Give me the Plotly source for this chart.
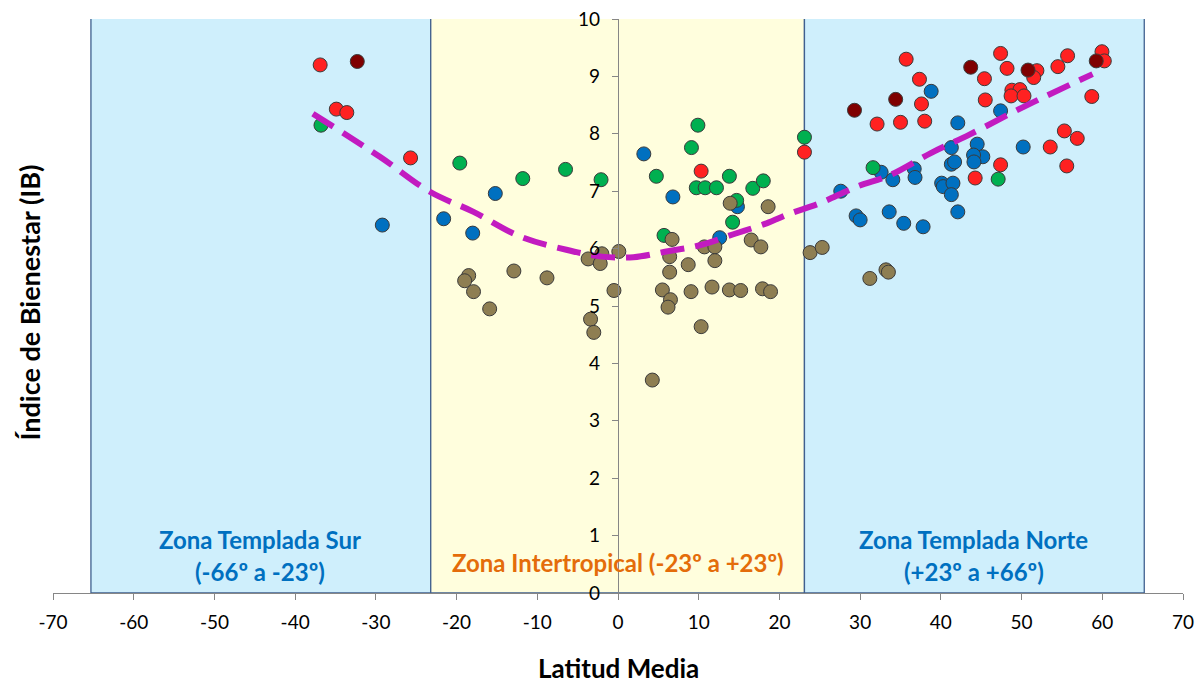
import plotly.graph_objects as go

# ---------------- data ----------------
red_x = [-36.9, -34.9, -33.6, -25.7, 10.3, 23.1, 32.1, 35.0, 38.0, 37.6, 37.35, 35.7, 47.4, 48.2, 45.4,
         51.9, 51.5, 54.5, 55.7, 59.96, 60.25, 48.8, 49.8, 48.7, 50.3, 45.5, 58.7, 55.3, 56.9, 53.55,
         47.4, 55.6, 44.25]
red_y = [9.20, 8.43, 8.37, 7.58, 7.35, 7.68, 8.17, 8.20, 8.22, 8.52, 8.95, 9.30, 9.40, 9.14, 8.96,
         9.10, 8.98, 9.17, 9.36, 9.43, 9.27, 8.76, 8.77, 8.66, 8.66, 8.59, 8.65, 8.05, 7.92, 7.77,
         7.46, 7.44, 7.23]

darkred_x = [-32.3, 29.3, 34.4, 43.7, 50.8, 59.25]
darkred_y = [9.26, 8.41, 8.60, 9.16, 9.11, 9.27]

green_x = [-36.8, -19.6, -11.8, -6.5, -2.1, 9.9, 9.1, 4.75, 9.7, 10.8, 12.2, 13.8, 16.7, 18.0, 14.7,
           14.2, 5.7, 23.1, 31.6, 47.1]
green_y = [8.15, 7.49, 7.22, 7.38, 7.20, 8.15, 7.76, 7.26, 7.06, 7.06, 7.06, 7.26, 7.05, 7.18, 6.84,
           6.46, 6.23, 7.94, 7.41, 7.21]

blue_x = [-29.2, -21.6, -18.0, -15.2, 3.2, 6.8, 14.8, 12.6, 27.6, 32.6, 34.05, 36.7, 36.8, 29.5, 30.0,
          33.6, 35.4, 37.8, 38.8, 42.1, 41.3, 41.3, 41.7, 40.1, 40.3, 41.5, 41.3, 42.1, 47.4, 44.5,
          50.2, 45.2, 44.05, 44.1]
blue_y = [6.41, 6.52, 6.27, 6.96, 7.65, 6.90, 6.73, 6.19, 7.00, 7.33, 7.20, 7.39, 7.24, 6.57, 6.50,
          6.64, 6.44, 6.38, 8.74, 8.19, 7.76, 7.47, 7.51, 7.14, 7.08, 7.14, 6.94, 6.64, 8.40, 7.82,
          7.77, 7.60, 7.63, 7.51]

khaki_x = [-18.5, -19.0, -17.9, -15.9, -12.9, -8.8, -3.7, -2.0, -2.2, 0.1, -0.5, -3.4, -3.0, 13.9, 18.6,
           6.7, 10.7, 12.0, 16.5, 17.7, 6.4, 8.7, 12.0, 6.4, 5.5, 9.05, 11.65, 13.8, 15.2, 17.9,
           18.9, 6.5, 6.2, 10.3, 4.25, 23.8, 25.3, 31.2, 33.2, 33.5]
khaki_y = [5.53, 5.44, 5.25, 4.95, 5.61, 5.49, 5.82, 5.91, 5.74, 5.95, 5.27, 4.77, 4.54, 6.79, 6.73,
           6.16, 6.03, 6.03, 6.15, 6.03, 5.86, 5.72, 5.79, 5.59, 5.28, 5.25, 5.33, 5.28, 5.27, 5.30,
           5.25, 5.11, 4.98, 4.64, 3.71, 5.93, 6.02, 5.48, 5.63, 5.59]

trend_x = [-37.8, -29.5, -23.3, -17.9, -12.1, -6.4, -2.0, 1.9, 6.0, 10.2, 14.3, 18.4, 21.3, 25.0,
           29.6, 33.7, 38.7, 43.6, 50.7, 58.8]
trend_y = [8.35, 7.60, 6.99, 6.64, 6.21, 5.98, 5.86, 5.85, 5.95, 6.06, 6.25, 6.44, 6.61, 6.79,
           7.08, 7.28, 7.66, 7.99, 8.50, 9.04]

x_ticks = [-70, -60, -50, -40, -30, -20, -10, 0, 10, 20, 30, 40, 50, 60, 70]
x_tick_labels = ["-70", "-60", "-50", "-40", "-30", "-20", "-10", "0", "10", "20", "30", "40", "50", "60", "70"]
y_ticks = [0, 1, 2, 3, 4, 5, 6, 7, 8, 9, 10]

zones = [(-65.3, -23.2, "#CFEFFC"), (-23.2, 23.1, "#FFFEDD"), (23.1, 65.2, "#CFEFFC")]

FONT = "Lato"

fig = go.Figure()

series = [
    (blue_x, blue_y, "#0070C0"),
    (green_x, green_y, "#00B050"),
    (khaki_x, khaki_y, "#8E7E52"),
    (red_x, red_y, "#FF2121"),
    (darkred_x, darkred_y, "#7F0000"),
]
for xs, ys, col in series:
    fig.add_trace(go.Scatter(
        x=xs, y=ys, mode="markers",
        marker=dict(size=14, color=col, line=dict(color="#3A3A3A", width=1)),
        showlegend=False, hoverinfo="x+y"))

fig.add_trace(go.Scatter(
    x=trend_x, y=trend_y, mode="lines",
    line=dict(color="#C21BC0", width=6, dash="24px,11px", shape="spline", smoothing=1.0),
    showlegend=False, hoverinfo="skip"))

for x0, x1, col in zones:
    fig.add_shape(type="rect", xref="x", yref="y", x0=x0, x1=x1, y0=0, y1=10.02,
                  fillcolor=col, line=dict(color="#40608F", width=1.3), layer="below")

annotations = [
    dict(x=-44.3, y=0.93, text="<b>Zona Templada Sur</b>", font=dict(color="#0070C0", size=24)),
    dict(x=-44.3, y=0.38, text="<b>(-66º a -23º)</b>", font=dict(color="#0070C0", size=24)),
    dict(x=0.0, y=0.54, text="<b>Zona Intertropical (-23º a +23º)</b>", font=dict(color="#E46C0A", size=24)),
    dict(x=44.1, y=0.93, text="<b>Zona Templada Norte</b>", font=dict(color="#0070C0", size=24)),
    dict(x=44.1, y=0.38, text="<b>(+23º a +66º)</b>", font=dict(color="#0070C0", size=24)),
]
for a in annotations:
    fig.add_annotation(xref="x", yref="y", showarrow=False, font_family=FONT,
                       xanchor="center", yanchor="middle", **a)

fig.add_annotation(xref="paper", yref="paper", x=0.5, y=(593 - 668) / 575,
                   xanchor="center", yanchor="middle",
                   text="<b>Latitud Media</b>", showarrow=False,
                   font=dict(family=FONT, size=26, color="#000000"))
fig.add_annotation(xref="paper", yref="paper", x=(30 - 53) / 1130, y=(593 - 302) / 575,
                   xanchor="center", yanchor="middle",
                   text="<b>Índice de Bienestar (IB)</b>", showarrow=False, textangle=-90,
                   font=dict(family=FONT, size=27, color="#000000"))

fig.update_layout(
    width=1196, height=686,
    margin=dict(l=53, r=13, t=19, b=93),
    paper_bgcolor="white", plot_bgcolor="white",
    font=dict(family=FONT, size=19, color="#000000"),
    xaxis=dict(range=[-70, 70], tickvals=x_ticks, ticktext=x_tick_labels, ticks="outside", ticklen=6,
               tickcolor="#868686", showline=True, linecolor="#868686", linewidth=1, showgrid=False,
               zeroline=False, automargin=False, ticklabelstandoff=6, tickfont=dict(size=19)),
    yaxis=dict(range=[0, 10], tickvals=y_ticks, ticks="outside", ticklen=6, tickcolor="#868686",
               showline=True, linecolor="#868686", linewidth=1.3, showgrid=False, zeroline=False,
               anchor="free", position=0.5, automargin=False, ticklabelstandoff=8,
               tickfont=dict(size=19)),
)

fig.write_html("out.html")
